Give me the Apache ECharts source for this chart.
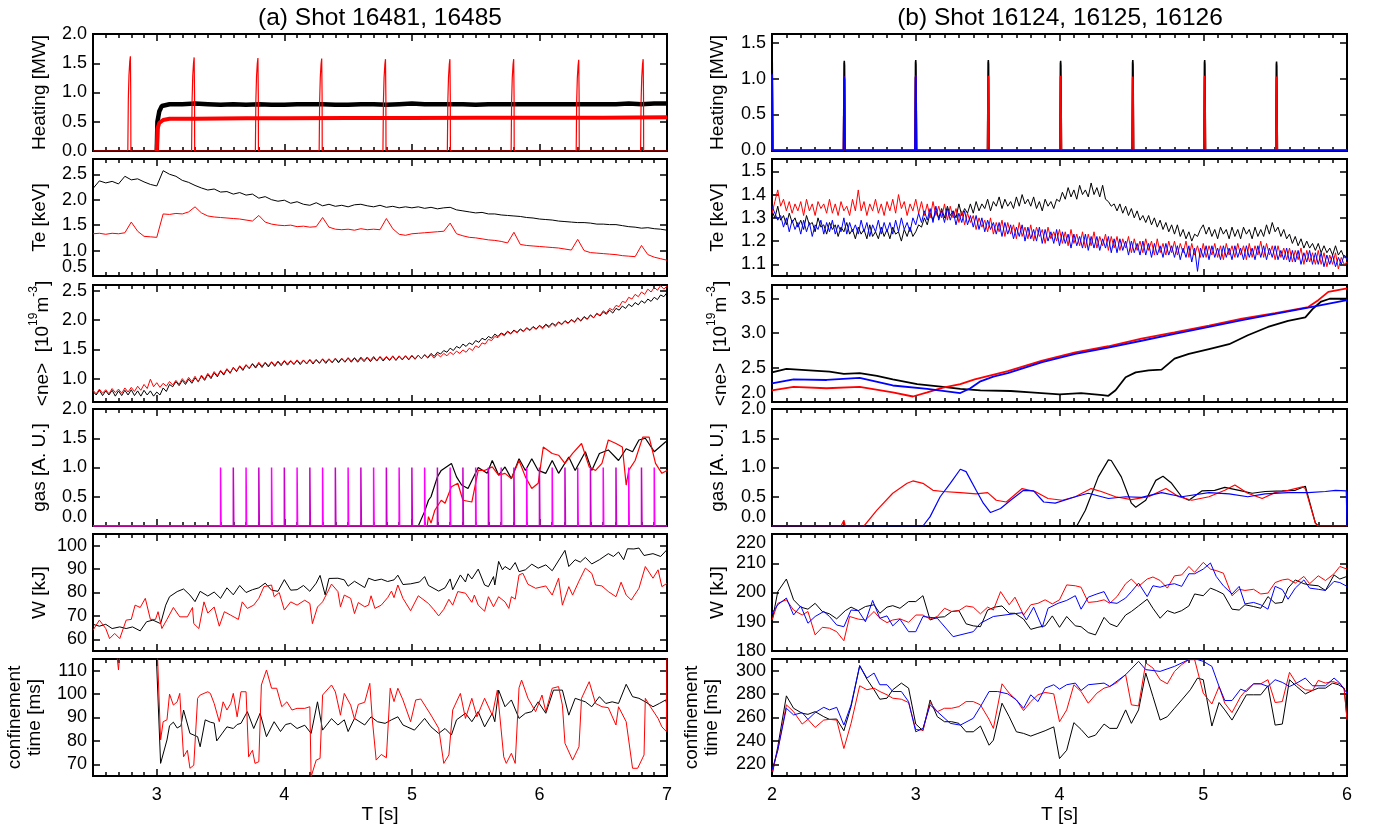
<!DOCTYPE html>
<html><head><meta charset="utf-8">
<script src="https://cdn.jsdelivr.net/npm/echarts@6/dist/echarts.min.js"></script>
<style>html,body{margin:0;padding:0;background:#fff}#c{width:1375px;height:830px}</style>
</head><body><div id="c"></div>
<script>
// ---------------- DATA ----------------
// (a) shots 16481 (black), 16485 (red)
const heatL_blackBase = [[2.5,0],[3.0,0]];
const heatL_blackBand = [[3.0,0],[3.005,0.5],[3.02,0.68],[3.04,0.77],[3.1,0.80],[3.2,0.80],[3.3,0.81],[3.4,0.80],[3.5,0.79],[3.6,0.80],[3.7,0.79],[3.8,0.80],[3.9,0.79],[4.0,0.79],[4.1,0.80],[4.2,0.80],[4.3,0.80],[4.4,0.79],[4.5,0.79],[4.6,0.80],[4.7,0.80],[4.8,0.79],[4.9,0.80],[5.0,0.81],[5.1,0.80],[5.2,0.80],[5.3,0.80],[5.4,0.80],[5.5,0.79],[5.6,0.80],[5.7,0.80],[5.8,0.80],[5.9,0.80],[6.0,0.80],[6.1,0.80],[6.2,0.80],[6.3,0.80],[6.4,0.80],[6.5,0.80],[6.6,0.80],[6.7,0.81],[6.8,0.80],[6.9,0.81],[7.0,0.81]];
const heatL_redBand = [[3.0,0],[3.005,0.38],[3.02,0.48],[3.05,0.53],[3.1,0.55],[3.2,0.55],[3.3,0.55],[3.5,0.555],[3.7,0.56],[4.0,0.56],[4.5,0.565],[5.0,0.565],[5.5,0.57],[6.0,0.57],[6.5,0.57],[7.0,0.575]];
const heatL_spikeTimes = [2.795,3.295,3.795,4.295,4.795,5.30,5.80,6.31,6.815];
const heatL_spikeHeights = [1.62,1.60,1.59,1.58,1.57,1.57,1.57,1.56,1.57];
const heatL_spikeShape = [[-0.022,0],[-0.018,0.55],[-0.013,0.8],[-0.007,0.94],[-0.002,1.0],[0.001,0.6],[0.002,0]];

const teL_t0 = 2.5, teL_dt = 0.05;
const teL_black = [2.22,2.37,2.33,2.36,2.31,2.46,2.39,2.41,2.35,2.30,2.27,
 2.57,2.50,2.46,2.38,2.34,2.28,2.23,2.19,2.21,2.15,2.16,2.11,2.14,2.09,2.11,2.03,2.06,2.00,1.97,1.99,
 1.93,1.96,1.91,1.89,1.94,1.88,1.91,1.87,1.89,1.86,1.90,1.91,1.88,1.86,1.89,1.85,1.87,1.84,1.86,1.84,
 1.86,1.83,1.85,1.82,1.84,1.85,1.80,1.78,1.76,1.74,1.75,1.72,1.72,1.70,1.69,1.68,1.67,1.65,1.64,1.62,
 1.61,1.60,1.58,1.57,1.56,1.55,1.55,1.54,1.52,1.52,1.51,1.51,1.49,1.47,1.46,1.44,1.45,1.43,1.42,1.40];
const teL_red = [1.33,1.34,1.32,1.34,1.33,1.35,1.56,1.38,1.28,1.27,1.26,
 1.72,1.71,1.73,1.72,1.76,1.86,1.74,1.68,1.66,1.65,1.64,1.63,1.62,1.60,1.58,1.69,1.56,1.52,1.50,1.49,
 1.50,1.47,1.48,1.46,1.47,1.65,1.46,1.42,1.41,1.42,1.40,1.43,1.41,1.42,1.41,1.63,1.43,1.32,1.30,1.33,
 1.34,1.35,1.36,1.37,1.38,1.54,1.33,1.29,1.26,1.25,1.23,1.21,1.20,1.18,1.15,1.36,1.12,1.10,1.09,1.08,
 1.07,1.06,1.05,1.03,1.01,1.22,1.00,0.96,0.95,0.94,0.93,0.92,0.90,0.89,0.88,1.10,0.92,0.87,0.84,0.81];

const neL_t0 = 2.5, neL_dt = 0.025;
const neL_black = [0.78,0.72,0.80,0.71,0.79,0.72,0.80,0.70,0.79,0.71,
 0.80,0.72,0.81,0.71,0.79,0.70,0.80,0.72,0.79,0.70,
 0.77,0.72,0.84,0.78,0.90,0.86,0.95,0.88,0.97,0.90,
 0.99,0.92,1.01,0.95,1.04,0.97,1.07,1.00,1.10,1.03,
 1.13,1.06,1.16,1.09,1.19,1.12,1.21,1.14,1.23,1.17,
 1.25,1.18,1.26,1.19,1.27,1.20,1.28,1.21,1.29,1.22,
 1.30,1.23,1.30,1.24,1.31,1.24,1.31,1.25,1.32,1.25,
 1.32,1.26,1.33,1.26,1.33,1.27,1.34,1.27,1.34,1.28,
 1.35,1.28,1.35,1.28,1.35,1.29,1.36,1.29,1.36,1.30,
 1.37,1.30,1.37,1.31,1.38,1.31,1.38,1.32,1.39,1.32,
 1.39,1.33,1.40,1.34,1.41,1.36,1.43,1.38,1.45,1.42,
 1.48,1.45,1.52,1.48,1.55,1.52,1.59,1.55,1.61,1.58,
 1.65,1.62,1.69,1.66,1.72,1.69,1.76,1.72,1.78,1.75,
 1.81,1.77,1.83,1.79,1.85,1.81,1.87,1.83,1.89,1.85,
 1.91,1.87,1.93,1.89,1.95,1.91,1.97,1.93,1.99,1.95,
 2.01,1.97,2.04,1.99,2.06,2.02,2.09,2.04,2.11,2.07,
 2.14,2.10,2.17,2.12,2.20,2.17,2.24,2.20,2.27,2.23,
 2.30,2.26,2.33,2.29,2.36,2.32,2.39,2.35,2.43,2.40,
 2.47];
const neL_red = [0.80,0.74,0.82,0.75,0.81,0.74,0.83,0.76,0.82,0.75,
 0.84,0.77,0.85,0.78,0.87,0.80,0.90,0.83,0.99,0.86,
 0.93,0.85,0.92,0.87,0.95,0.89,0.97,0.90,1.00,0.93,
 1.02,0.95,1.04,0.94,1.06,0.99,1.09,1.02,1.12,1.05,
 1.14,1.08,1.17,1.10,1.19,1.13,1.22,1.16,1.24,1.18,
 1.26,1.20,1.28,1.21,1.28,1.22,1.29,1.23,1.30,1.24,
 1.31,1.25,1.31,1.25,1.32,1.26,1.32,1.26,1.33,1.27,
 1.33,1.27,1.34,1.28,1.34,1.28,1.35,1.29,1.35,1.29,
 1.36,1.30,1.36,1.30,1.37,1.31,1.37,1.31,1.38,1.31,
 1.38,1.32,1.38,1.32,1.39,1.32,1.39,1.33,1.39,1.33,
 1.40,1.34,1.40,1.34,1.40,1.35,1.41,1.35,1.42,1.37,
 1.43,1.39,1.45,1.41,1.47,1.43,1.49,1.45,1.52,1.48,
 1.56,1.53,1.61,1.59,1.67,1.65,1.72,1.70,1.77,1.73,
 1.80,1.76,1.82,1.78,1.84,1.80,1.86,1.82,1.88,1.84,
 1.90,1.85,1.92,1.87,1.94,1.89,1.96,1.92,1.98,1.94,
 2.00,1.96,2.03,1.98,2.05,2.01,2.08,2.04,2.12,2.08,
 2.16,2.12,2.20,2.17,2.25,2.23,2.32,2.30,2.39,2.36,
 2.44,2.40,2.48,2.44,2.53,2.48,2.56,2.51,2.59,2.53,
 2.58];

const gasL_black = [[2.5,0],[5.05,0],[5.1,0.25],[5.13,0.44],[5.15,0.5],[5.2,0.84],[5.23,0.95],[5.31,1.07],[5.35,0.84],[5.39,0.7],[5.44,0.64],[5.52,1.0],[5.59,0.9],[5.63,1.12],[5.68,0.87],[5.73,1.01],[5.78,0.81],[5.84,1.15],[5.89,0.95],[5.94,1.15],[5.99,0.95],[6.05,0.9],[6.1,1.12],[6.15,0.9],[6.23,1.18],[6.28,0.95],[6.36,1.27],[6.41,0.95],[6.47,1.24],[6.54,1.3],[6.62,1.12],[6.68,1.32],[6.73,1.27],[6.78,1.47],[6.83,1.5],[6.9,1.27],[6.99,1.44],[7.0,1.45]];
const gasL_red = [[2.5,0],[5.12,0],[5.13,0.16],[5.15,0.05],[5.18,0.27],[5.23,0.44],[5.26,0.39],[5.31,0.67],[5.36,0.73],[5.4,0.44],[5.47,0.41],[5.52,0.95],[5.57,0.95],[5.63,1.01],[5.68,0.87],[5.73,0.9],[5.78,0.81],[5.84,1.12],[5.89,0.84],[5.94,0.64],[5.99,0.73],[6.03,1.35],[6.1,1.24],[6.15,1.21],[6.2,1.07],[6.26,1.24],[6.33,1.41],[6.39,1.01],[6.44,0.95],[6.49,1.07],[6.54,1.47],[6.6,1.41],[6.65,1.35],[6.68,0.7],[6.7,0.95],[6.75,1.12],[6.81,1.52],[6.86,1.52],[6.91,1.07],[6.96,0.9],[7.0,0.95]];
const gasL_pulseTimes = [3.5,3.6,3.7,3.8,3.9,4.0,4.1,4.2,4.3,4.4,4.5,4.6,4.7,4.8,4.9,5.0,5.1,5.2,5.3,5.4,5.5,5.6,5.7,5.8,5.9,6.0,6.1,6.2,6.3,6.4,6.5,6.6,6.7,6.8,6.9];
const gasL_pulseHeight = 1.0;

const wL_black = [[2.5,66.4],[2.55,65.6],[2.6,66.4],[2.65,64.6],[2.71,65.3],[2.76,64.6],[2.81,65.3],[2.87,63.6],[2.92,67.5],[2.97,68.2],[3.03,66.7],[3.07,74.6],[3.1,78.2],[3.16,80.4],[3.21,81.5],[3.26,78.9],[3.3,76.1],[3.34,80.5],[3.4,78.5],[3.45,80.2],[3.5,77.5],[3.55,82],[3.6,79],[3.65,83],[3.7,80],[3.75,81.2],[3.8,82],[3.85,84],[3.9,81],[3.95,80.5],[4.0,85.5],[4.05,81],[4.1,81.2],[4.15,83],[4.2,80.5],[4.25,84],[4.28,87.3],[4.32,79],[4.35,86],[4.42,86.1],[4.47,85.4],[4.5,82.7],[4.55,84.8],[4.63,82.1],[4.66,86.1],[4.71,85.1],[4.76,85.7],[4.81,84.7],[4.86,85.4],[4.89,87.4],[4.93,83.4],[4.99,83.7],[5.06,84.5],[5.1,86.8],[5.13,83],[5.21,80.6],[5.26,82],[5.3,85.8],[5.32,81.2],[5.38,87.5],[5.42,84.5],[5.44,88],[5.47,85.8],[5.52,90],[5.57,83.2],[5.6,82.5],[5.64,86.8],[5.65,83.2],[5.68,93.3],[5.71,89.7],[5.73,91.1],[5.77,89.7],[5.81,92.8],[5.84,88.9],[5.89,89.7],[5.94,92.1],[5.99,90.4],[6.05,91.8],[6.1,89.3],[6.2,98],[6.23,91.1],[6.28,94],[6.32,93],[6.36,95],[6.41,92.2],[6.47,94],[6.54,96.6],[6.58,95.4],[6.62,97.3],[6.66,94],[6.69,98.7],[6.74,98.6],[6.78,99],[6.82,95.8],[6.89,96.6],[6.95,95.4],[7.0,98.3]];
const wL_red = [[2.5,63.9],[2.55,68.2],[2.6,64.6],[2.63,60.3],[2.67,62.5],[2.71,60.3],[2.76,68.2],[2.8,68.5],[2.83,74.6],[2.87,73.6],[2.91,77.5],[2.95,68.5],[2.99,68.5],[3.01,71.8],[3.04,64.6],[3.08,68.5],[3.13,73.6],[3.18,69.6],[3.24,69.6],[3.28,73.6],[3.29,66.7],[3.33,64.6],[3.37,76],[3.4,71.2],[3.45,73.8],[3.49,65.6],[3.53,71.8],[3.58,70.3],[3.64,68.5],[3.67,76],[3.71,73.2],[3.76,74.6],[3.8,77.5],[3.84,82.5],[3.9,83.2],[3.92,78.2],[3.96,80],[4.0,72.5],[4.05,76],[4.1,74.6],[4.16,76.7],[4.2,75.3],[4.22,66.7],[4.26,73.8],[4.3,76],[4.34,80.3],[4.37,83.6],[4.42,80.4],[4.44,73.9],[4.47,78.9],[4.52,77.5],[4.55,71],[4.58,75.7],[4.63,73.9],[4.66,74.6],[4.68,78.6],[4.71,73.2],[4.76,74.6],[4.81,77.8],[4.84,80.6],[4.86,77.8],[4.89,83.2],[4.93,77.5],[4.99,72.2],[5.05,78.6],[5.13,75.3],[5.17,72.8],[5.21,70],[5.25,72.8],[5.29,77.1],[5.32,74.6],[5.36,80.4],[5.42,79.7],[5.47,75.8],[5.49,78.9],[5.52,74.6],[5.57,72],[5.6,78.2],[5.64,73.9],[5.68,78.2],[5.73,76],[5.76,73.2],[5.78,78.2],[5.81,77.2],[5.84,87.5],[5.87,88.2],[5.91,83.5],[5.97,81.8],[6.05,82.8],[6.1,78.9],[6.15,86.1],[6.18,74.6],[6.23,82.5],[6.26,78.9],[6.31,84.9],[6.36,90.4],[6.41,88.2],[6.44,83.2],[6.49,82.8],[6.54,80.4],[6.6,78.2],[6.64,84.4],[6.68,78.9],[6.72,76.8],[6.78,81.8],[6.83,91.1],[6.89,86.1],[6.93,89.7],[6.96,82.5],[7.0,83.9]];

const tauL_black = [[2.99,125],[3.03,70.4],[3.08,80.4],[3.1,86.5],[3.13,88],[3.16,85.5],[3.19,86.5],[3.21,93.2],[3.26,83.2],[3.32,81.8],[3.34,77.5],[3.38,89],[3.42,88],[3.45,87.6],[3.47,80],[3.51,83],[3.55,86],[3.6,85.3],[3.63,87],[3.66,87.5],[3.71,92.5],[3.76,85.3],[3.81,91.8],[3.86,81.8],[3.92,88.2],[3.97,84],[4.01,87],[4.05,87.5],[4.1,85.3],[4.16,86.7],[4.21,83.2],[4.26,96.7],[4.3,84.6],[4.37,89.5],[4.42,86.8],[4.47,89],[4.5,84],[4.55,89.6],[4.63,86.8],[4.68,90.3],[4.73,88.2],[4.79,87.5],[4.84,89],[4.89,90.3],[4.93,86.8],[5.02,84.6],[5.1,89.6],[5.15,86],[5.21,83.2],[5.26,85.3],[5.31,82.5],[5.35,89],[5.42,91.8],[5.47,88.2],[5.52,92.5],[5.57,86],[5.63,91.8],[5.65,88.2],[5.68,101.7],[5.73,94.6],[5.78,97.5],[5.84,89.6],[5.89,91.8],[5.94,92.5],[5.99,96.7],[6.05,91.8],[6.11,101.7],[6.18,101.7],[6.23,91],[6.28,98.2],[6.36,96.7],[6.41,94.6],[6.47,98.9],[6.52,96],[6.57,96.7],[6.62,96],[6.68,104.2],[6.73,98.9],[6.78,98.2],[6.83,96.7],[6.89,94.6],[6.94,96],[6.99,97.5],[7.0,95.3]];
const tauL_red = [[2.5,130],[2.67,125],[2.7,110.3],[2.72,125],[2.98,130],[3.0,125],[3.03,80.4],[3.05,88.2],[3.08,89],[3.1,100],[3.13,95.3],[3.16,96.7],[3.18,100.3],[3.21,73.2],[3.24,76],[3.26,68.3],[3.29,69.6],[3.32,98.2],[3.34,99.6],[3.4,101],[3.42,100.3],[3.45,96],[3.49,88.2],[3.52,96.7],[3.55,93.2],[3.58,96],[3.6,100.3],[3.63,90.3],[3.66,101],[3.7,101],[3.72,73.2],[3.75,76],[3.77,70.4],[3.8,71.1],[3.82,103.9],[3.86,110.3],[3.9,102.5],[3.94,102.5],[3.98,94.6],[4.02,96.7],[4.06,93.2],[4.1,93.9],[4.16,93.9],[4.2,94.6],[4.21,64.7],[4.25,71.8],[4.28,72.5],[4.3,99.6],[4.37,103.9],[4.4,101],[4.44,91],[4.47,100.3],[4.52,95.3],[4.55,89.3],[4.58,95.6],[4.63,96.5],[4.67,104.6],[4.69,89],[4.72,71.8],[4.76,74.2],[4.8,72.8],[4.83,102.5],[4.86,96.8],[4.89,102.5],[4.93,97.5],[4.99,88.2],[5.03,97.5],[5.07,97.9],[5.15,91],[5.21,85.4],[5.25,70.4],[5.29,74],[5.32,93.2],[5.38,100.3],[5.42,89.6],[5.47,98.2],[5.51,90.3],[5.57,98.2],[5.63,91],[5.67,101.7],[5.72,73.2],[5.74,70.4],[5.78,74.7],[5.81,70.4],[5.84,102.7],[5.86,106],[5.91,98.2],[5.97,92.5],[6.02,99.6],[6.05,92.5],[6.1,102.5],[6.15,103.2],[6.18,95.3],[6.2,79],[6.26,71.8],[6.31,77.5],[6.33,98.2],[6.39,105.3],[6.44,96],[6.49,94.6],[6.54,94.2],[6.6,86.8],[6.62,94.6],[6.68,88.2],[6.73,68.3],[6.77,68.3],[6.82,74],[6.83,98.2],[6.87,94.6],[6.93,89.6],[6.96,86],[6.995,84],[7.0,125]];

// (b) shots 16124 (black), 16125 (red), 16126 (blue)
const heatR_spikeTimes = [2.0,2.503,3.0,3.505,4.008,4.51,5.01,5.51];
const heatR_blackHeights = [1.30,1.25,1.26,1.26,1.25,1.26,1.26,1.24];
const heatR_redHeights = [1.05,1.03,1.04,1.04,1.04,1.03,1.04,1.03];
const heatR_blueTimes = [2.0,2.503,3.0];
const heatR_blueHeights = [1.07,1.03,1.04];
const heatR_spikeShape = [[-0.006,0],[-0.002,0.97],[0,1.0],[0.002,0.95],[0.006,0]];

const teR_t0 = 2.0, teR_dt = 0.02;
const teR_black = [
 1.33,1.30,1.35,1.29,1.31,1.27,1.32,1.28,1.30,1.26,
 1.29,1.25,1.31,1.27,1.28,1.24,1.30,1.26,1.27,1.23,
 1.28,1.25,1.27,1.22,1.26,1.24,1.28,1.23,1.25,1.21,
 1.26,1.23,1.25,1.21,1.27,1.22,1.24,1.21,1.26,1.22,
 1.25,1.21,1.26,1.23,1.24,1.20,1.25,1.22,1.26,1.22,
 1.24,1.27,1.26,1.30,1.27,1.32,1.29,1.33,1.30,1.34,
 1.30,1.35,1.31,1.33,1.30,1.36,1.31,1.34,1.32,1.36,
 1.32,1.37,1.33,1.36,1.34,1.38,1.33,1.37,1.35,1.39,
 1.34,1.38,1.35,1.37,1.34,1.39,1.35,1.40,1.36,1.38,
 1.35,1.39,1.34,1.37,1.33,1.38,1.35,1.37,1.34,1.38,
 1.37,1.41,1.38,1.43,1.39,1.42,1.38,1.44,1.40,1.42,
 1.39,1.45,1.40,1.43,1.39,1.44,1.38,1.37,1.35,1.36,
 1.33,1.36,1.32,1.35,1.31,1.34,1.30,1.33,1.29,1.31,
 1.28,1.31,1.27,1.30,1.26,1.29,1.25,1.28,1.24,1.27,
 1.23,1.27,1.22,1.25,1.21,1.24,1.20,1.23,1.22,1.25,
 1.27,1.23,1.26,1.22,1.25,1.21,1.26,1.23,1.25,1.21,
 1.26,1.22,1.25,1.21,1.26,1.23,1.25,1.21,1.26,1.22,
 1.25,1.22,1.27,1.23,1.28,1.24,1.26,1.22,1.25,1.21,
 1.23,1.19,1.22,1.18,1.21,1.17,1.20,1.17,1.19,1.16,
 1.19,1.15,1.18,1.15,1.17,1.14,1.18,1.14,1.16,1.13,
 1.14];
const teR_red = [
 1.32,1.37,1.42,1.35,1.38,1.33,1.37,1.32,1.36,1.33,
 1.37,1.31,1.38,1.33,1.36,1.31,1.37,1.34,1.36,1.32,
 1.38,1.32,1.36,1.31,1.37,1.33,1.35,1.31,1.38,1.33,
 1.42,1.33,1.37,1.31,1.36,1.33,1.38,1.32,1.36,1.31,
 1.37,1.33,1.38,1.32,1.40,1.34,1.37,1.31,1.36,1.33,
 1.38,1.32,1.37,1.31,1.36,1.30,1.37,1.31,1.35,1.30,
 1.36,1.29,1.35,1.30,1.34,1.28,1.33,1.27,1.32,1.28,
 1.31,1.25,1.30,1.26,1.29,1.24,1.30,1.23,1.28,1.24,
 1.29,1.22,1.28,1.23,1.27,1.21,1.28,1.22,1.26,1.21,
 1.27,1.20,1.26,1.22,1.25,1.19,1.26,1.21,1.24,1.20,
 1.25,1.19,1.24,1.18,1.25,1.19,1.23,1.18,1.24,1.17,
 1.23,1.18,1.24,1.17,1.22,1.18,1.23,1.16,1.22,1.17,
 1.22,1.16,1.21,1.17,1.22,1.15,1.21,1.16,1.20,1.15,
 1.21,1.16,1.20,1.14,1.21,1.15,1.19,1.14,1.20,1.15,
 1.20,1.14,1.19,1.15,1.20,1.13,1.19,1.14,1.18,1.13,
 1.19,1.13,1.18,1.14,1.19,1.13,1.18,1.12,1.19,1.14,
 1.18,1.13,1.19,1.14,1.18,1.12,1.19,1.13,1.18,1.14,
 1.20,1.13,1.19,1.14,1.18,1.12,1.18,1.13,1.17,1.12,
 1.17,1.11,1.16,1.12,1.17,1.10,1.16,1.11,1.15,1.10,
 1.16,1.10,1.15,1.09,1.14,1.10,1.15,1.08,1.13,1.10,
 1.11];
const teR_blue = [
 1.35,1.32,1.29,1.31,1.26,1.30,1.24,1.29,1.25,1.28,
 1.23,1.29,1.24,1.28,1.22,1.27,1.25,1.29,1.23,1.28,
 1.24,1.29,1.23,1.27,1.24,1.30,1.23,1.28,1.24,1.27,
 1.23,1.29,1.24,1.28,1.22,1.27,1.24,1.29,1.23,1.28,
 1.24,1.28,1.23,1.29,1.24,1.30,1.25,1.28,1.24,1.30,
 1.27,1.32,1.28,1.33,1.29,1.34,1.28,1.35,1.29,1.33,
 1.28,1.34,1.29,1.33,1.27,1.32,1.28,1.33,1.27,1.31,
 1.26,1.31,1.25,1.30,1.24,1.29,1.25,1.28,1.23,1.28,
 1.22,1.28,1.23,1.27,1.21,1.26,1.22,1.27,1.20,1.26,
 1.21,1.25,1.20,1.26,1.19,1.25,1.20,1.24,1.19,1.25,
 1.18,1.24,1.19,1.23,1.17,1.23,1.18,1.22,1.17,1.23,
 1.16,1.22,1.17,1.22,1.16,1.21,1.17,1.22,1.15,1.21,
 1.15,1.21,1.16,1.20,1.14,1.20,1.15,1.19,1.14,1.20,
 1.14,1.19,1.13,1.19,1.14,1.18,1.13,1.19,1.14,1.18,
 1.13,1.18,1.12,1.17,1.13,1.18,1.11,1.17,1.07,1.17,
 1.13,1.18,1.12,1.18,1.13,1.17,1.12,1.18,1.13,1.17,
 1.12,1.18,1.13,1.17,1.12,1.18,1.13,1.17,1.12,1.18,
 1.13,1.18,1.12,1.17,1.13,1.18,1.12,1.16,1.12,1.17,
 1.11,1.16,1.11,1.16,1.10,1.15,1.11,1.16,1.10,1.15,
 1.10,1.15,1.09,1.14,1.10,1.14,1.09,1.13,1.10,1.14,
 1.12];

const neR_black = [[2.0,2.43],[2.1,2.48],[2.26,2.46],[2.4,2.44],[2.5,2.41],[2.61,2.42],[2.73,2.38],[2.84,2.33],[3.01,2.26],[3.19,2.22],[3.31,2.19],[3.45,2.17],[3.66,2.16],[3.8,2.14],[4.0,2.11],[4.15,2.13],[4.3,2.10],[4.34,2.09],[4.39,2.17],[4.46,2.36],[4.53,2.43],[4.62,2.46],[4.71,2.47],[4.8,2.63],[4.9,2.70],[5.04,2.77],[5.18,2.84],[5.31,2.97],[5.45,3.09],[5.59,3.18],[5.71,3.23],[5.76,3.35],[5.82,3.46],[5.88,3.50],[6.0,3.50]];
const neR_red = [[2.0,2.17],[2.15,2.22],[2.38,2.20],[2.61,2.22],[2.84,2.14],[2.98,2.08],[3.08,2.14],[3.19,2.21],[3.31,2.26],[3.41,2.33],[3.64,2.45],[3.88,2.60],[4.11,2.72],[4.34,2.81],[4.57,2.92],[4.8,3.01],[5.04,3.11],[5.27,3.21],[5.5,3.29],[5.73,3.38],[5.8,3.48],[5.87,3.60],[6.0,3.65]];
const neR_blue = [[2.0,2.27],[2.15,2.33],[2.38,2.32],[2.61,2.35],[2.84,2.24],[3.08,2.19],[3.31,2.13],[3.38,2.20],[3.45,2.30],[3.54,2.37],[3.64,2.42],[3.88,2.58],[4.11,2.70],[4.34,2.79],[4.57,2.89],[4.8,2.99],[5.04,3.09],[5.27,3.19],[5.5,3.28],[5.73,3.37],[6.0,3.48]];

const gasR_black = [[2.0,0],[4.12,0],[4.18,0.27],[4.27,0.84],[4.34,1.13],[4.36,1.12],[4.43,0.84],[4.5,0.39],[4.53,0.32],[4.6,0.44],[4.67,0.78],[4.72,0.85],[4.78,0.73],[4.85,0.5],[4.9,0.44],[4.99,0.6],[5.08,0.61],[5.15,0.66],[5.25,0.61],[5.34,0.56],[5.43,0.59],[5.55,0.6],[5.64,0.61],[5.71,0.68],[5.78,0.05],[5.8,0],[6.0,0]];
const gasR_red = [[2.0,0],[2.48,0],[2.5,0.1],[2.51,0],[2.64,0],[2.73,0.27],[2.84,0.56],[2.94,0.73],[2.98,0.77],[3.05,0.73],[3.12,0.61],[3.19,0.59],[3.31,0.57],[3.42,0.55],[3.5,0.57],[3.56,0.44],[3.63,0.41],[3.74,0.64],[3.83,0.59],[3.92,0.47],[4.02,0.44],[4.11,0.5],[4.22,0.64],[4.29,0.59],[4.39,0.5],[4.5,0.45],[4.62,0.5],[4.74,0.64],[4.83,0.5],[4.92,0.44],[5.04,0.5],[5.15,0.61],[5.22,0.7],[5.31,0.56],[5.41,0.47],[5.5,0.57],[5.59,0.61],[5.69,0.67],[5.71,0.64],[5.78,0.05],[5.8,0],[6.0,0]];
const gasR_blue = [[2.0,0],[3.05,0],[3.1,0.16],[3.17,0.5],[3.24,0.73],[3.31,0.97],[3.35,0.93],[3.42,0.61],[3.47,0.39],[3.52,0.23],[3.59,0.3],[3.66,0.44],[3.75,0.61],[3.82,0.6],[3.89,0.41],[3.97,0.39],[4.11,0.5],[4.2,0.56],[4.34,0.47],[4.46,0.5],[4.57,0.49],[4.71,0.57],[4.85,0.5],[5.04,0.57],[5.18,0.55],[5.31,0.5],[5.43,0.55],[5.59,0.57],[5.73,0.57],[5.85,0.59],[5.92,0.61],[5.995,0.6],[6.0,0]];

const wR_black = [[2.0,190],[2.04,200.3],[2.1,204.6],[2.15,197.5],[2.2,195],[2.25,194.3],[2.3,196.3],[2.35,193.5],[2.4,192.7],[2.45,191],[2.51,193.8],[2.55,195],[2.6,193.8],[2.65,195.2],[2.71,195.8],[2.75,192.9],[2.8,195],[2.84,195.5],[2.89,194.6],[2.95,196.9],[3.0,196.9],[3.05,198.9],[3.1,190.6],[3.15,191.5],[3.2,191.7],[3.25,193.5],[3.3,193.8],[3.35,189.3],[3.4,188.6],[3.45,188.3],[3.5,194],[3.55,195],[3.6,195.4],[3.65,192.9],[3.69,192.9],[3.75,190.9],[3.8,187.4],[3.85,188.1],[3.9,188.6],[3.95,192],[4.0,188.1],[4.05,191.8],[4.11,188.6],[4.15,188.3],[4.2,186.3],[4.25,185.5],[4.31,191.5],[4.35,189.3],[4.4,188.3],[4.46,192.3],[4.5,193.5],[4.55,195.4],[4.61,197.7],[4.65,194.6],[4.7,191.2],[4.75,193.8],[4.8,192.9],[4.85,193.8],[4.9,195.4],[4.94,199.5],[5.0,198.9],[5.05,201.5],[5.09,200.7],[5.14,199.5],[5.2,194.3],[5.25,194],[5.29,195.8],[5.35,195.2],[5.4,194.6],[5.45,198.6],[5.5,196.3],[5.55,196.6],[5.59,201.5],[5.64,204.3],[5.7,203],[5.74,202.6],[5.8,202.3],[5.85,200.7],[5.91,206],[5.95,204.6],[6.0,205.5]];
const wR_red = [[2.0,190.6],[2.04,196.3],[2.1,197.5],[2.15,194],[2.21,192.3],[2.25,193.5],[2.3,185.5],[2.35,188.1],[2.4,187.8],[2.45,186.6],[2.5,183.5],[2.54,191.8],[2.6,190.9],[2.65,190.6],[2.71,193.5],[2.75,191.2],[2.8,189.7],[2.84,190.6],[2.89,191],[2.95,189.8],[3.0,192.3],[3.05,192.3],[3.1,190.9],[3.15,191.8],[3.2,194.6],[3.25,193.5],[3.3,193.8],[3.35,195.4],[3.4,195],[3.45,192.7],[3.5,195],[3.54,194],[3.59,200.3],[3.65,195.8],[3.69,198.4],[3.75,192.3],[3.8,195.8],[3.85,196.3],[3.9,197.5],[3.95,196.1],[4.0,197.5],[4.05,202.6],[4.11,202.3],[4.15,201.8],[4.2,196.6],[4.26,196.9],[4.31,197.5],[4.35,196.3],[4.4,198.6],[4.46,203],[4.5,204.6],[4.55,202.1],[4.61,204.6],[4.65,205.3],[4.7,204.1],[4.75,201.5],[4.8,205.7],[4.85,206],[4.9,208.9],[4.94,206.9],[5.0,210.3],[5.05,208],[5.09,207.5],[5.14,206.6],[5.2,198.9],[5.25,201.1],[5.29,200.7],[5.35,201.1],[5.4,199.5],[5.45,199.8],[5.5,203.4],[5.55,204.3],[5.59,204.6],[5.64,203.2],[5.7,205.5],[5.74,203],[5.8,205.7],[5.85,204.1],[5.91,206.4],[5.95,208.9],[6.0,208]];
const wR_blue = [[2.0,192.9],[2.04,195.8],[2.1,198.1],[2.15,192.3],[2.2,195.4],[2.25,189.5],[2.3,191.8],[2.36,193.5],[2.4,191.8],[2.45,188.9],[2.5,188.3],[2.55,194],[2.6,193.8],[2.65,190],[2.7,197.3],[2.75,191.2],[2.8,192],[2.84,188.6],[2.89,190.9],[2.95,186.6],[3.0,186.6],[3.05,191.8],[3.15,191.2],[3.26,184.9],[3.4,186.6],[3.45,189.5],[3.54,191.8],[3.68,192.7],[3.74,193.1],[3.77,190.6],[3.82,195],[3.88,188.1],[3.92,194.6],[3.99,196.3],[4.05,197.3],[4.11,198.9],[4.15,194.3],[4.2,198.4],[4.26,199.5],[4.31,200.3],[4.35,196.6],[4.4,196.3],[4.46,198.1],[4.5,200.3],[4.55,203.2],[4.61,198.6],[4.65,202.3],[4.7,201.8],[4.75,202.6],[4.8,203],[4.85,202.1],[4.9,206.4],[4.94,206.4],[5.0,208],[5.05,210.1],[5.09,205.5],[5.14,202.3],[5.2,199.5],[5.25,202.1],[5.29,196.1],[5.35,196.6],[5.4,195.8],[5.45,194.3],[5.5,202.1],[5.55,201],[5.59,197.7],[5.64,201.5],[5.7,204.3],[5.74,201.5],[5.8,201.1],[5.85,200.7],[5.91,203.8],[5.95,203.4],[6.0,202.1]];

const tauR_black = [[2.0,210.5],[2.04,234.9],[2.1,278.5],[2.15,267.9],[2.21,263.6],[2.25,262.7],[2.3,265],[2.36,260.7],[2.4,258.4],[2.45,258.7],[2.5,248.7],[2.55,269.3],[2.61,304.3],[2.66,292.8],[2.71,283.7],[2.75,275.6],[2.8,276.5],[2.84,283.7],[2.9,289.4],[2.95,285.1],[3.0,254.4],[3.05,248.7],[3.1,275],[3.15,260.7],[3.2,256.4],[3.25,256.4],[3.3,255],[3.35,247.8],[3.4,247.8],[3.45,252.7],[3.51,236.3],[3.54,240.6],[3.6,272.2],[3.65,260.7],[3.7,247.8],[3.75,246.4],[3.8,244.1],[3.85,246.4],[3.9,248.7],[3.96,252],[4.0,224.9],[4.05,232],[4.1,255.6],[4.15,249.8],[4.2,242.9],[4.25,244.9],[4.31,254.4],[4.35,250.7],[4.4,250.7],[4.46,266.5],[4.5,255],[4.55,266.5],[4.6,298],[4.65,277.9],[4.7,257.8],[4.75,260.7],[4.8,267.9],[4.85,275],[4.91,283.7],[4.96,293.7],[5.0,292.3],[5.06,252.7],[5.11,272.8],[5.15,266.5],[5.2,257.8],[5.26,270.8],[5.3,279.4],[5.35,279.4],[5.4,279.4],[5.45,287.1],[5.5,253.5],[5.55,254.4],[5.6,292.3],[5.65,286.5],[5.71,280.2],[5.76,283.1],[5.8,285.1],[5.85,285.1],[5.9,289.4],[5.94,288],[5.98,285.1],[6.0,259.3]];
const tauR_red = [[2.0,213.4],[2.04,232],[2.1,270.8],[2.15,265],[2.21,254.4],[2.25,258.4],[2.3,251.5],[2.36,257.8],[2.4,258.4],[2.45,257.8],[2.5,233.5],[2.55,255],[2.61,287.1],[2.66,283.7],[2.71,285.1],[2.75,282.2],[2.8,279.4],[2.84,276.5],[2.9,275.6],[2.95,272.8],[3.0,249.8],[3.05,249.2],[3.1,272.8],[3.15,265],[3.2,267.9],[3.25,267.9],[3.3,269.3],[3.35,273.6],[3.4,273.6],[3.45,270.8],[3.51,258.4],[3.54,250.7],[3.6,288.8],[3.65,280.8],[3.7,275],[3.75,265.9],[3.8,273.6],[3.85,279.4],[3.9,281.4],[3.96,280.2],[4.0,256.4],[4.05,266.5],[4.1,288],[4.15,282.2],[4.2,272.2],[4.26,280.8],[4.31,285.1],[4.35,286.5],[4.4,290],[4.46,296.6],[4.5,270.8],[4.55,269.9],[4.6,306.6],[4.65,302.3],[4.7,292.3],[4.75,288.8],[4.8,299.4],[4.85,305.2],[4.9,309.5],[4.94,309.5],[5.0,280.8],[5.06,271.6],[5.11,286.5],[5.15,272.2],[5.2,264.2],[5.26,277.9],[5.3,283.7],[5.35,288.8],[5.4,288.8],[5.45,292.3],[5.5,272.8],[5.55,273.6],[5.6,298.6],[5.65,288.8],[5.71,283.7],[5.76,283.1],[5.8,291.7],[5.85,289.4],[5.9,290.8],[5.95,288.8],[5.98,285.1],[6.0,257.8]];
const tauR_blue = [[2.0,214.8],[2.04,232],[2.1,267.9],[2.15,262.2],[2.21,264.2],[2.25,258.4],[2.3,264.2],[2.36,268.7],[2.4,266.5],[2.45,268.7],[2.5,253.5],[2.55,270.8],[2.61,304.3],[2.66,293.7],[2.71,298],[2.75,288],[2.8,288],[2.84,282.2],[2.9,282.2],[2.95,273.6],[3.0,247.8],[3.05,250.7],[3.1,270.8],[3.15,265],[3.24,255],[3.31,253.5],[3.4,259.3],[3.45,269.3],[3.51,282.2],[3.57,282.2],[3.64,280.2],[3.7,275],[3.75,267.9],[3.8,279.4],[3.85,273.6],[3.9,285.1],[3.96,288],[4.0,284.2],[4.05,288],[4.11,289.4],[4.15,283.1],[4.2,288],[4.31,289.4],[4.35,286.5],[4.46,296.6],[4.55,308],[4.6,300.9],[4.7,299.4],[4.8,303.7],[4.9,309.5],[4.96,309.5],[5.0,308],[5.06,303.7],[5.11,286.5],[5.15,274.5],[5.2,274.5],[5.26,284.2],[5.3,282.2],[5.35,288.8],[5.4,288.8],[5.45,286.5],[5.5,292.3],[5.55,290],[5.6,286.5],[5.65,289.4],[5.71,293.7],[5.76,287.1],[5.85,287.1],[5.91,293.7],[5.95,289.4],[6.0,280.8]];

// tick labels
const xTicksL = [3,4,5,6,7];
const xTicksR = [2,3,4,5,6];

// ---------------- BUILD ----------------
const FONT = "'Liberation Sans', Arial, Helvetica, sans-serif";
const BLACK='#000000', RED='#ff0000', BLUE='#0000ff', MAG='#ff00ff', PURP='#c800c8';

function stepSeries(t0, dt, vals){ return vals.map((v,i)=>[+(t0+i*dt).toFixed(4), v]); }
function spikeSeries(x0, x1, times, heights, shape){
  const out=[[x0,0]];
  times.forEach((t,i)=>{ shape.forEach(s=>{ out.push([Math.max(x0,t+s[0]), s[1]*heights[i]]); }); });
  out.push([x1,0]); return out;
}
function pulseSeries(x0, x1, times, h, withBase){
  const out = withBase ? [[x0,0]] : [];
  times.forEach(t=>{ out.push([t,0],[t,h],[t+0.004,h],[t+0.004,0]); if(!withBase) out.push(null); });
  if(withBase) out.push([x1,0]);
  return out;
}
const pulseA = gasL_pulseTimes.filter((t,i)=>i%2===0);
const pulseB = gasL_pulseTimes.filter((t,i)=>i%2===1);

const cols = [
  {left:93, width:574, x:[2.5,7], major:xTicksL},
  {left:772, width:575, x:[2,6], major:xTicksR}
];
const rowTops = [34,159,285,409,534,659];
const H = 117;

const neName = '{n|<ne>  [10}{s|19}{n|m}{s|-3}{n|]}';

const panels = [
 {c:0,r:0,y:[0,2.0],ticks:[0,0.5,1,1.5,2],dec:1,name:'Heating [MW]',gap:43.5,series:[
   [heatL_blackBase,BLACK,1.5],[heatL_blackBand,BLACK,4.5],
   [spikeSeries(2.5,7,heatL_spikeTimes,heatL_spikeHeights,heatL_spikeShape),RED,1.2],[heatL_redBand,RED,4]]},
 {c:0,r:1,y:[0.5,2.8],ticks:[0.5,1,1.5,2,2.5],dec:1,name:'Te [keV]',gap:43.5,edge:{'0.5':'bottom'},series:[
   [stepSeries(teL_t0,teL_dt,teL_black),BLACK,1],[stepSeries(teL_t0,teL_dt,teL_red),RED,1]]},
 {c:0,r:2,y:[0.6,2.6],ticks:[1,1.5,2,2.5],dec:1,name:neName,gap:41,rich:true,series:[
   [stepSeries(neL_t0,neL_dt,neL_black),BLACK,1],[stepSeries(neL_t0,neL_dt,neL_red),RED,1]]},
 {c:0,r:3,y:[0,2.0],ticks:[0,0.5,1,1.5,2],dec:1,name:'gas [A. U.]',gap:43.5,edge:{'0':'bottom'},series:[
   [gasL_black,BLACK,1.2],[gasL_red,RED,1.2],
   [pulseSeries(2.5,7,pulseA,gasL_pulseHeight,true),MAG,1.5],[pulseSeries(2.5,7,pulseB,gasL_pulseHeight,false),PURP,1.5]]},
 {c:0,r:4,y:[55,105],ticks:[60,70,80,90,100],dec:0,name:'W [kJ]',gap:43.5,series:[
   [wL_black,BLACK,1],[wL_red,RED,1]]},
 {c:0,r:5,y:[65,115],ticks:[70,80,90,100,110],dec:0,name:'confinement\ntime [ms]',gap:48,series:[
   [tauL_black,BLACK,1],[tauL_red,RED,1]]},
 {c:1,r:0,y:[-0.01,1.625],ticks:[0,0.5,1,1.5],dec:1,name:'Heating [MW]',gap:44.5,series:[
   [spikeSeries(2,6,heatR_spikeTimes,heatR_blackHeights,heatR_spikeShape),BLACK,1.5],
   [spikeSeries(2,6,heatR_spikeTimes,heatR_redHeights,heatR_spikeShape),RED,1.5],
   [spikeSeries(2,6,heatR_blueTimes,heatR_blueHeights,heatR_spikeShape),BLUE,1.5]]},
 {c:1,r:1,y:[1.05,1.553],ticks:[1.1,1.2,1.3,1.4,1.5],dec:1,name:'Te [keV]',gap:44.5,series:[
   [stepSeries(teR_t0,teR_dt,teR_black),BLACK,1],[stepSeries(teR_t0,teR_dt,teR_red),RED,1],[stepSeries(teR_t0,teR_dt,teR_blue),BLUE,1]]},
 {c:1,r:2,y:[2.0,3.7],ticks:[2,2.5,3,3.5],dec:1,name:neName,gap:42,rich:true,edge:{'2':'bottom'},series:[
   [neR_black,BLACK,1.8],[neR_red,RED,1.8],[neR_blue,BLUE,1.8]]},
 {c:1,r:3,y:[0,2.0],ticks:[0,0.5,1,1.5,2],dec:1,name:'gas [A. U.]',gap:44.5,edge:{'0':'bottom'},series:[
   [gasR_black,BLACK,1.2],[gasR_red,RED,1.2],[gasR_blue,BLUE,1.2]]},
 {c:1,r:4,y:[180,220],ticks:[180,190,200,210,220],dec:0,name:'W [kJ]',gap:44.5,edge:{'220':'top'},series:[
   [wR_black,BLACK,1],[wR_red,RED,1],[wR_blue,BLUE,1]]},
 {c:1,r:5,y:[210,310],ticks:[220,240,260,280,300],dec:0,name:'confinement\ntime [ms]',gap:50,series:[
   [tauR_black,BLACK,1],[tauR_red,RED,1],[tauR_blue,BLUE,1]]}
];

const grid=[], xAxis=[], yAxis=[], series=[];
const tickStyle = {color:'#000', width:1.5};
const labelBase = {fontSize:18, color:'#000', fontFamily:FONT};

panels.forEach((p,g)=>{
  const col = cols[p.c];
  grid.push({left:col.left, top:rowTops[p.r], width:col.width, height:H, show:true, borderColor:'#000', borderWidth:2, backgroundColor:'rgba(0,0,0,0)', outerBoundsMode:'none'});
  const minors=[];
  for(let k=Math.round(col.x[0]*10)+1;k<Math.round(col.x[1]*10);k++){ if(k%10!==0) minors.push(k/10); }
  const isLast = p.r===5;
  const xb = xAxis.length;
  const mkX = (pos, vals, len, lab) => ({
    type:'value', gridIndex:g, position:pos, min:col.x[0], max:col.x[1],
    axisLine:{show:false, onZero:false}, splitLine:{show:false},
    axisTick:{show:true, inside:true, length:len, customValues:vals, lineStyle:tickStyle},
    axisLabel: lab ? Object.assign({show:true, customValues:col.major, margin:10, formatter:v=>String(v)}, labelBase) : {show:false},
    name: lab ? 'T [s]' : '', nameLocation:'middle', nameGap:27,
    nameTextStyle:{fontSize:19, color:'#000', fontFamily:FONT}
  });
  xAxis.push(mkX('bottom', col.major, 7, isLast));
  xAxis.push(mkX('bottom', minors, 4, false));
  xAxis.push(mkX('top', col.major, 7, false));
  xAxis.push(mkX('top', minors, 4, false));

  const yb = yAxis.length;
  const edge = p.edge || {};
  const mainLabels = p.ticks.filter(v=>!(String(v) in edge));
  const nameStyle = {fontSize:19, color:'#000', fontFamily:FONT, lineHeight:20};
  if(p.rich){
    nameStyle.rich = {
      n:{fontSize:19, lineHeight:24, verticalAlign:'bottom', color:'#000', fontFamily:FONT},
      s:{fontSize:12, lineHeight:12, verticalAlign:'top', color:'#000', fontFamily:FONT}
    };
  }
  yAxis.push({type:'value', gridIndex:g, position:'left', min:p.y[0], max:p.y[1],
    axisLine:{show:false, onZero:false}, splitLine:{show:false},
    axisTick:{show:true, inside:true, length:7, customValues:p.ticks, lineStyle:tickStyle},
    axisLabel:Object.assign({show:true, customValues:mainLabels, margin:6, formatter:v=>(+v).toFixed(p.dec)}, labelBase),
    name:p.name, nameLocation:'middle', nameGap:p.gap, nameRotate:90, nameTextStyle:nameStyle});
  yAxis.push({type:'value', gridIndex:g, position:'right', min:p.y[0], max:p.y[1],
    axisLine:{show:false, onZero:false}, splitLine:{show:false},
    axisTick:{show:true, inside:true, length:7, customValues:p.ticks, lineStyle:tickStyle},
    axisLabel:{show:false}});
  Object.keys(edge).forEach(k=>{
    yAxis.push({type:'value', gridIndex:g, position:'left', min:p.y[0], max:p.y[1],
      axisLine:{show:false, onZero:false}, splitLine:{show:false}, axisTick:{show:false},
      axisLabel:Object.assign({show:true, customValues:[+k], margin:6, verticalAlign:edge[k], formatter:v=>(+v).toFixed(p.dec)}, labelBase)});
  });

  p.series.forEach(([data,color,w])=>{
    series.push({type:'line', xAxisIndex:xb, yAxisIndex:yb, data:data, showSymbol:false, symbol:'none',
      connectNulls:false, clip:true, silent:true, animation:false,
      lineStyle:{color:color, width:w}, itemStyle:{color:color}, emphasis:{disabled:true}});
  });
});

const chart = echarts.init(document.getElementById('c'), null, {renderer:'canvas', width:1375, height:830});
chart.setOption({
  backgroundColor:'#ffffff',
  animation:false,
  textStyle:{fontFamily:FONT},
  grid, xAxis, yAxis, series,
  graphic:[
    {type:'text', x:380, y:18, style:{text:'(a) Shot 16481, 16485', align:'center', verticalAlign:'middle', textAlign:'center', textVerticalAlign:'middle', fontSize:24.5, fontFamily:FONT, fill:'#000'}},
    {type:'text', x:1060, y:18, style:{text:'(b) Shot 16124, 16125, 16126', align:'center', verticalAlign:'middle', textAlign:'center', textVerticalAlign:'middle', fontSize:24.5, fontFamily:FONT, fill:'#000'}}
  ]
});
</script></body></html>
